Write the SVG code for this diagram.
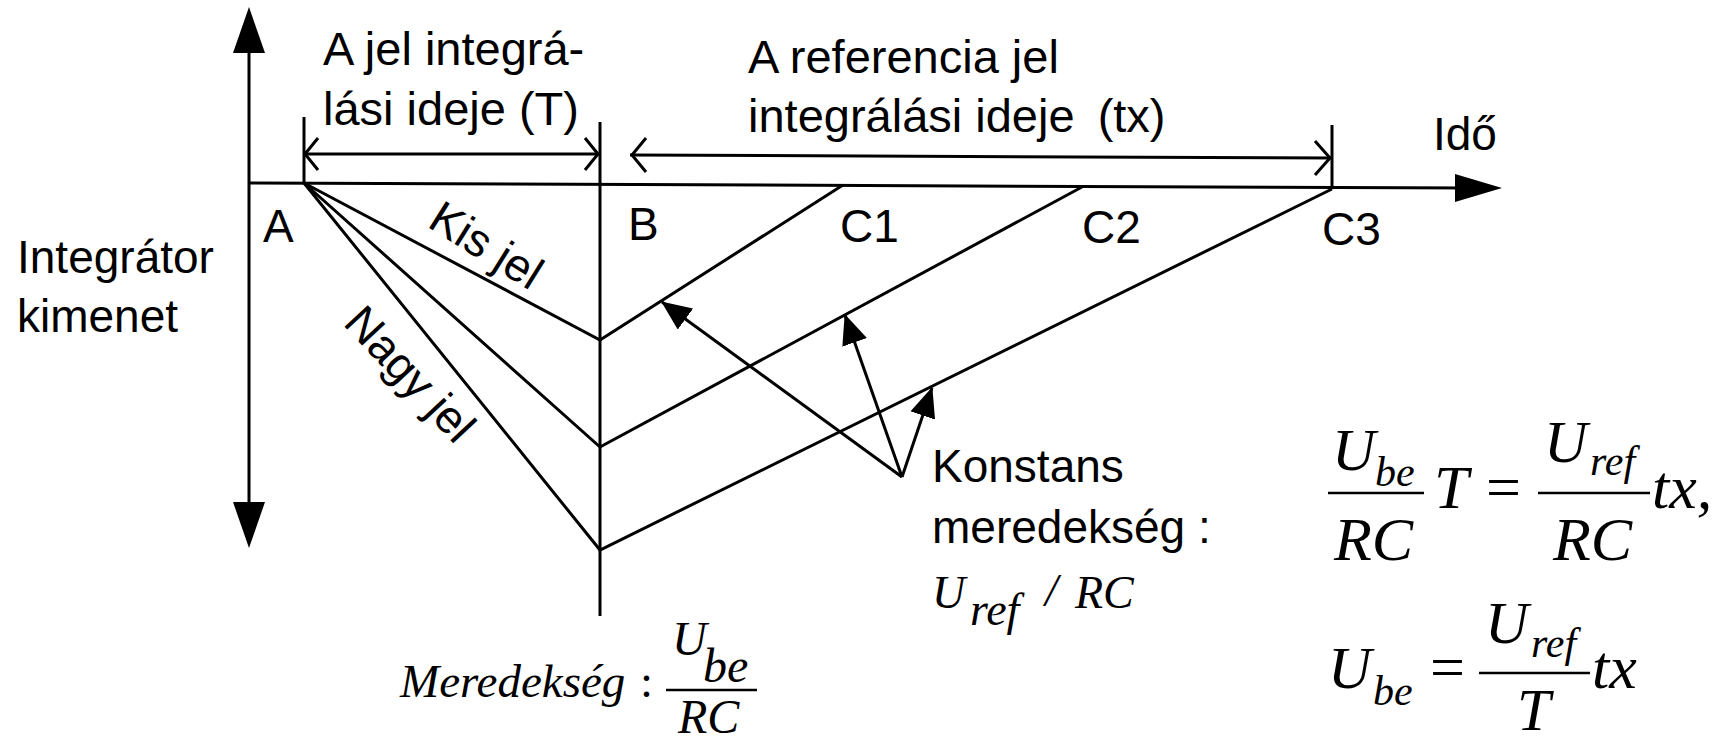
<svg xmlns="http://www.w3.org/2000/svg" width="1733" height="744" viewBox="0 0 1733 744">
<style>
.ln{stroke:#000;stroke-width:3;fill:none;stroke-linecap:butt;stroke-linejoin:miter}
.hd{fill:#000;stroke:none}
.sans{font-family:"Liberation Sans",Arial,sans-serif;font-size:46px;fill:#000}
.big{font-size:47px}
.m{font-family:"Liberation Serif","Times New Roman",serif;font-style:italic;fill:#000}
.up{font-style:normal}
.bar{stroke:#000;stroke-width:2.5}
</style>
<defs>
<marker id="ptr" markerUnits="userSpaceOnUse" markerWidth="30" markerHeight="26" viewBox="0 0 30 26" refX="29" refY="13" orient="auto">
<path d="M0,0 L30,13 L0,26 Z" fill="#000"/>
</marker>
</defs>
<rect width="1733" height="744" fill="#fff"/>

<g id="axes">
<line class="ln" x1="249" y1="40" x2="249" y2="515"/>
<polygon class="hd" points="249,7 233,53 265,53"/>
<polygon class="hd" points="249,548 233,502 265,502"/>
<line class="ln" x1="249" y1="183" x2="1470" y2="188"/>
<polygon class="hd" points="1502,188 1455,174 1455,202"/>
</g>

<g id="ticks">
<line class="ln" x1="304" y1="117" x2="304" y2="183"/>
<line class="ln" x1="600" y1="122" x2="600" y2="616"/>
<line class="ln" x1="1332" y1="125" x2="1332" y2="189"/>
</g>

<g id="dim-T">
<line class="ln" x1="304" y1="154" x2="600" y2="154"/>
<polyline class="ln" points="318,138 305,154 318,170"/>
<polyline class="ln" points="585,138 598,154 585,170"/>
</g>

<g id="dim-tx">
<line class="ln" x1="630" y1="155" x2="1332" y2="158"/>
<polyline class="ln" points="646,138 632,155 646,172"/>
<polyline class="ln" points="1315,141 1330,158 1315,175"/>
</g>

<g id="integration">
<polyline class="ln" points="304,183 600,340 843,185"/>
<polyline class="ln" points="304,183 600,447 1082,187"/>
<polyline class="ln" points="304,183 600,550 1332,189"/>
</g>

<g id="connectors">
<line class="ln" x1="902" y1="477" x2="662" y2="302" marker-end="url(#ptr)"/>
<line class="ln" x1="902" y1="477" x2="845" y2="315" marker-end="url(#ptr)"/>
<line class="ln" x1="902" y1="477" x2="932" y2="388" marker-end="url(#ptr)"/>
</g>

<g id="labels-sans">
<text class="sans big" x="323" y="65">A jel integrá-</text>
<text class="sans big" x="323" y="125">lási ideje (T)</text>
<text class="sans big" x="748" y="73">A referencia jel</text>
<text class="sans big" x="748" y="132">integrálási ideje <tspan dx="10">(tx)</tspan></text>
<text class="sans" x="1433" y="150">Idő</text>
<text class="sans" x="17" y="273">Integrátor</text>
<text class="sans" x="17" y="332">kimenet</text>
<text class="sans" x="263" y="242">A</text>
<text class="sans" x="628" y="240">B</text>
<text class="sans" x="840" y="242">C1</text>
<text class="sans" x="1082" y="243">C2</text>
<text class="sans" x="1322" y="245">C3</text>
<text class="sans" transform="translate(426,226) rotate(32)">Kis jel</text>
<text class="sans" transform="translate(342,324) rotate(47)">Nagy jel</text>
<text class="sans" x="932" y="482">Konstans</text>
<text class="sans" x="932" y="543">meredekség :</text>
</g>

<g id="slope-ref">
<text class="m" font-size="46" x="932" y="608">U</text>
<text class="m" font-size="46" x="970" y="625">ref</text>
<text class="m" font-size="46" x="1045" y="606">/</text>
<text class="m" font-size="46" x="1075" y="608">RC</text>
</g>

<g id="slope-be">
<text class="m" font-size="47" x="400" y="697">Meredekség</text>
<text class="m up" font-size="47" x="640" y="697">:</text>
<text class="m" font-size="48" x="672" y="655">U</text>
<text class="m" font-size="48" x="703" y="682">be</text>
<line class="bar" x1="666" y1="690" x2="757" y2="690"/>
<text class="m" font-size="48" x="678" y="733">RC</text>
</g>

<g id="formula1">
<text class="m" font-size="60" x="1332" y="470">U</text>
<text class="m" font-size="42" x="1375" y="486">be</text>
<line class="bar" x1="1328" y1="493" x2="1424" y2="493"/>
<text class="m" font-size="62" x="1334" y="560">RC</text>
<text class="m" font-size="62" x="1434" y="508">T</text>
<text class="m up" font-size="62" x="1486" y="508">=</text>
<text class="m" font-size="60" x="1544" y="462">U</text>
<text class="m" font-size="42" x="1590" y="475">ref</text>
<line class="bar" x1="1538" y1="493" x2="1650" y2="493"/>
<text class="m" font-size="62" x="1553" y="560">RC</text>
<text class="m" font-size="62" x="1652" y="508">tx,</text>
</g>

<g id="formula2">
<text class="m" font-size="60" x="1328" y="688">U</text>
<text class="m" font-size="42" x="1373" y="705">be</text>
<text class="m up" font-size="62" x="1430" y="688">=</text>
<text class="m" font-size="60" x="1485" y="643">U</text>
<text class="m" font-size="42" x="1531" y="657">ref</text>
<line class="bar" x1="1479" y1="673" x2="1590" y2="673"/>
<text class="m" font-size="60" x="1517" y="730">T</text>
<text class="m" font-size="62" x="1592" y="688">tx</text>
</g>
</svg>
